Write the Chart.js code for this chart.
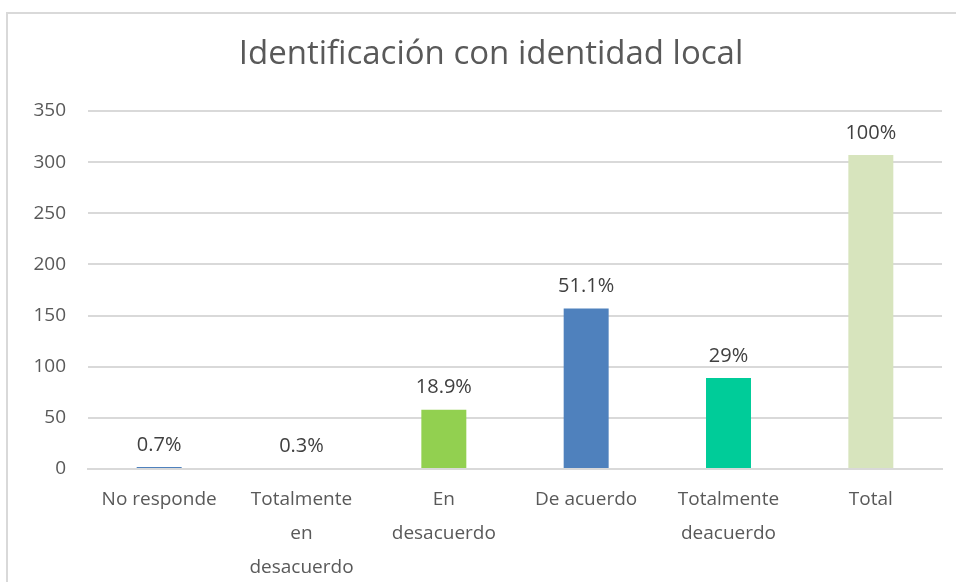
<!DOCTYPE html>
<html>
<head>
<meta charset="utf-8">
<script src="https://cdn.jsdelivr.net/npm/chart.js@4"></script>
<style>
  html, body { margin: 0; padding: 0; background: #fff; overflow: hidden; }
  #frame {
    position: absolute; left: 6px; top: 12px; width: 980px; height: 600px;
    border: 2px solid #d9d9d9; box-sizing: border-box;
  }
  #wrap { position: absolute; left: 0; top: 0; width: 982px; height: 582px; }
</style>
</head>
<body>
<div id="frame"></div>
<div id="wrap"><canvas id="chart" width="982" height="582"></canvas></div>
<script>
// Chart data
const categories = [
  "No responde",
  ["Totalmente", "en", "desacuerdo"],
  ["En", "desacuerdo"],
  "De acuerdo",
  ["Totalmente", "deacuerdo"],
  "Total",
];
const counts = [2, 1, 58, 157, 89, 307];
const percentLabels = ["0.7%", "0.3%", "18.9%", "51.1%", "29%", "100%"];
const barColors = ["#4F81BD", "#A9BCDA", "#92D050", "#4F81BD", "#00CC99", "#D7E4BD"];
const yTicks = [0, 50, 100, 150, 200, 250, 300, 350];
const chartTitle = "Identificación con identidad local";

const fontFamily = "'Open Sans', 'Liberation Sans', sans-serif";

// Title centred on the whole chart frame (not on the plot area)
const frameTitle = {
  id: "frameTitle",
  afterDraw(chart) {
    const ctx = chart.ctx;
    ctx.save();
    ctx.font = "33px " + fontFamily;
    ctx.fillStyle = "#595959";
    ctx.textAlign = "center";
    ctx.textBaseline = "middle";
    ctx.fillText(chartTitle, chart.width / 2, 55);
    ctx.restore();
  },
};

// Draw percentage labels above each bar
const valueLabels = {
  id: "valueLabels",
  afterDatasetsDraw(chart) {
    const ctx = chart.ctx;
    const meta = chart.getDatasetMeta(0);
    ctx.save();
    ctx.font = "20px " + fontFamily;
    ctx.fillStyle = "#404040";
    ctx.textAlign = "center";
    ctx.textBaseline = "bottom";
    meta.data.forEach((bar, i) => {
      ctx.fillText(percentLabels[i], bar.x, bar.y - 12);
    });
    ctx.restore();
  },
};

new Chart(document.getElementById("chart"), {
  type: "bar",
  data: {
    labels: categories,
    datasets: [
      {
        data: counts,
        backgroundColor: barColors,
        borderWidth: 0,
        categoryPercentage: 1,
        barPercentage: 0.316,
      },
    ],
  },
  options: {
    responsive: false,
    animation: false,
    layout: { padding: { left: 0, right: 40, top: 111, bottom: 0 } },
    plugins: {
      legend: { display: false },
      tooltip: { enabled: false },
      title: { display: false },
    },
    scales: {
      x: {
        grid: { display: false },
        border: { display: true, color: "#d9d9d9", width: 2 },
        ticks: {
          color: "#595959",
          font: { family: fontFamily, size: 19, lineHeight: 1.8 },
          padding: 5,
          maxRotation: 0,
          autoSkip: false,
        },
        afterFit(scale) { scale.height = 113; },
      },
      y: {
        min: 0,
        max: 350,
        afterBuildTicks(scale) { scale.ticks = yTicks.map((v) => ({ value: v })); },
        grid: { color: "#d9d9d9", lineWidth: 2, drawTicks: false },
        border: { display: false },
        ticks: {
          color: "#595959",
          font: { family: fontFamily, size: 19 },
          padding: 22,
        },
        afterFit(scale) { scale.width = 88; },
      },
    },
  },
  plugins: [valueLabels, frameTitle],
});
</script>
</body>
</html>
